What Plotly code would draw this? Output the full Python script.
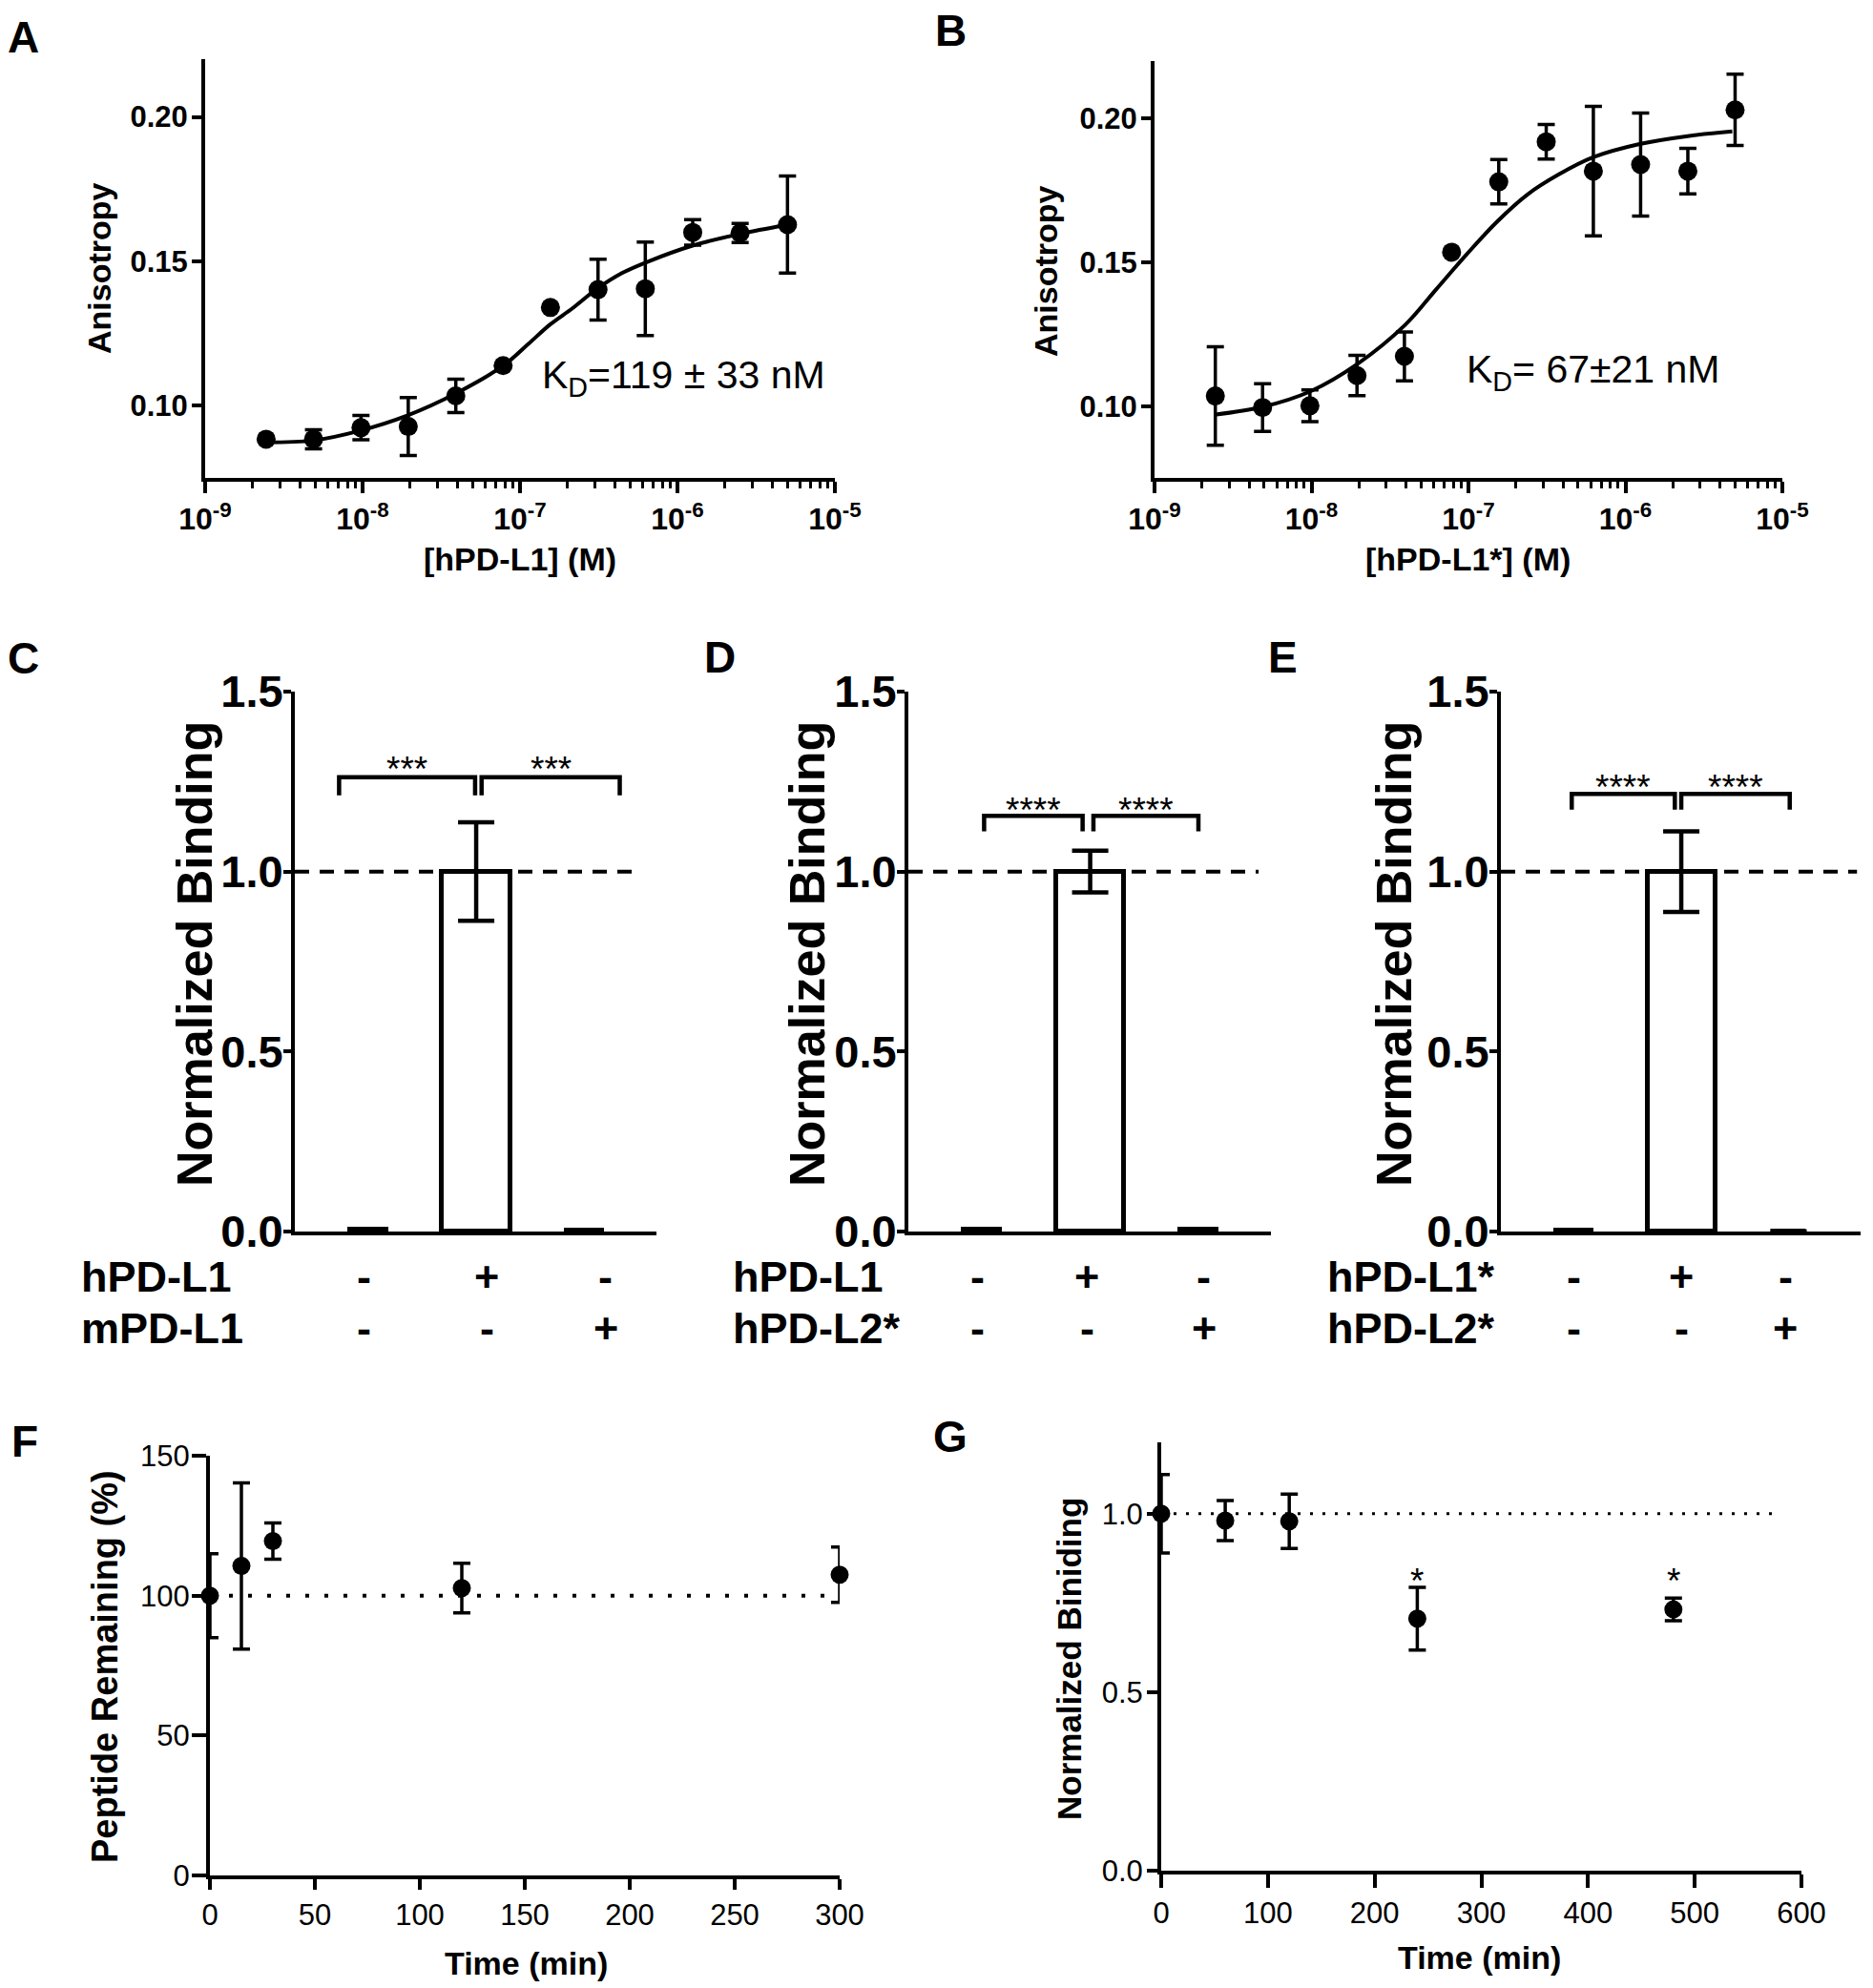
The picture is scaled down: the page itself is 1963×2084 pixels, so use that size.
import plotly.graph_objects as go

W, H = 1963, 2084
FONT = "Liberation Sans, Arial, Helvetica, sans-serif"

# ------------------------------------------------------------------ data
# Panel A : anisotropy vs [hPD-L1]
conc_A = [2.44e-9, 4.88e-9, 9.77e-9, 1.95e-8, 3.91e-8, 7.81e-8,
          1.56e-7, 3.13e-7, 6.25e-7, 1.25e-6, 2.5e-6, 5.0e-6]
aniso_A = [0.0884, 0.0884, 0.0924, 0.0928, 0.1034, 0.1139,
           0.1340, 0.1402, 0.1405, 0.1600, 0.1598, 0.1627]
sem_A = [None, 0.0033, 0.0042, 0.0100, 0.0058, None,
         None, 0.0105, 0.0162, 0.0044, 0.0033, 0.0168]
fit_conc_A = [2.43e-9, 4.89e-9, 9.68e-9, 1.92e-8, 3.96e-8, 7.85e-8, 1.13e-7, 1.56e-7,
              2.15e-7, 3.09e-7, 4.44e-7, 6.37e-7, 1.26e-6, 2.51e-6, 4.89e-6]
fit_A = [0.0873, 0.0880, 0.0914, 0.0966, 0.1044, 0.1139, 0.1214, 0.1282,
         0.1337, 0.1405, 0.1459, 0.1497, 0.1555, 0.1595, 0.1625]
kd_A = "K<sub>D</sub>=119 ± 33 nM"

# Panel B : anisotropy vs [hPD-L1*]
conc_B = [2.44e-9, 4.88e-9, 9.77e-9, 1.95e-8, 3.91e-8, 7.81e-8,
          1.56e-7, 3.13e-7, 6.25e-7, 1.25e-6, 2.5e-6, 5.0e-6]
aniso_B = [0.1035, 0.0995, 0.1001, 0.1106, 0.1173, 0.1535,
           0.1780, 0.1919, 0.1817, 0.1840, 0.1817, 0.2030]
sem_B = [0.0171, 0.0083, 0.0055, 0.0070, 0.0085, None,
         0.0077, 0.0060, 0.0225, 0.0179, 0.0079, 0.0124]
fit_conc_B = [2.41e-9, 4.89e-9, 9.84e-9, 1.96e-8, 3.95e-8, 6.19e-8, 9.68e-8,
              1.52e-7, 2.38e-7, 3.72e-7, 6.21e-7, 1.25e-6, 2.49e-6, 4.80e-6]
fit_B = [0.0970, 0.0997, 0.1051, 0.1146, 0.1282, 0.1404, 0.1526,
         0.1641, 0.1736, 0.1804, 0.1865, 0.1912, 0.1939, 0.1955]
kd_B = "K<sub>D</sub>= 67±21 nM"

x_ticks_log = [1e-9, 1e-8, 1e-7, 1e-6, 1e-5]
x_ticktext_log = ["10<sup>-9</sup>", "10<sup>-8</sup>", "10<sup>-7</sup>",
                  "10<sup>-6</sup>", "10<sup>-5</sup>"]

# Panels C, D, E : normalized binding bars
groups = [0, 1, 2]
bind_C = [0.006, 1.0, 0.003]
sem_C = [None, 0.137, None]
bind_D = [0.005, 1.0, 0.006]
sem_D = [None, 0.058, None]
bind_E = [0.003, 1.0, 0.0]
sem_E = [None, 0.112, None]
rows_C = ["hPD-L1", "mPD-L1"]
rows_D = ["hPD-L1", "hPD-L2*"]
rows_E = ["hPD-L1*", "hPD-L2*"]
signs = [["-", "+", "-"], ["-", "-", "+"]]
sig_C = ["***", "***"]
sig_D = ["****", "****"]
sig_E = ["****", "****"]

# Panel F : peptide remaining
time_F = [0, 15, 30, 120, 300]
pep_F = [100.0, 110.6, 119.5, 102.7, 107.5]
sem_F = [15.0, 29.7, 6.5, 8.9, 9.9]

# Panel G : normalized binding over time
time_G = [0, 60, 120, 240, 480]
bind_G = [1.0, 0.981, 0.979, 0.706, 0.732]
sem_G = [0.11, 0.056, 0.076, 0.088, 0.032]
sig_G = ["", "", "", "*", "*"]

# ------------------------------------------------------------------ layout helpers
def dx(a, b):
    return [a / W, b / W]


def dy(top, bottom):
    return [1 - bottom / H, 1 - top / H]


def axis(**kw):
    d = dict(showline=True, linecolor="black", linewidth=4, ticks="outside",
             tickcolor="black", tickwidth=4, showgrid=False, zeroline=False,
             mirror=False, fixedrange=True, automargin=False)
    d.update(kw)
    return d


def tf(size, bold):
    return dict(family=FONT, size=size, color="black", weight="bold" if bold else "normal")


annotations = []


def note(x, y, text, size, bold=True, xanchor="center", yanchor="middle",
         angle=0, xref="paper", yref="paper", yshift=0):
    if xref == "paper":
        x = x / W
    if yref == "paper":
        y = 1 - y / H
    annotations.append(dict(x=x, y=y, xref=xref, yref=yref, text=text, showarrow=False,
                            xanchor=xanchor, yanchor=yanchor, textangle=angle,
                            font=tf(size, bold), yshift=yshift))


shapes = []

fig = go.Figure()

# ------------------------------------------------------------------ A & B
minor_log = [k * 10.0 ** e for e in range(-9, -5) for k in range(2, 10)]
err_style = dict(type="data", visible=True, color="black", thickness=3.5, width=9)

for n, conc, val, sem, fc, fv in [
    ("", conc_A, aniso_A, sem_A, fit_conc_A, fit_A),
    ("2", conc_B, aniso_B, sem_B, fit_conc_B, fit_B),
]:
    fig.add_trace(go.Scatter(x=fc, y=fv, mode="lines", line=dict(color="black", width=4, shape="spline"),
                             xaxis="x" + n, yaxis="y" + n, showlegend=False, hoverinfo="skip"))
    fig.add_trace(go.Scatter(x=conc, y=val, mode="markers",
                             marker=dict(color="black", size=20),
                             error_y=dict(array=sem, **err_style),
                             xaxis="x" + n, yaxis="y" + n, showlegend=False, cliponaxis=False))

log_x = dict(type="log", range=[-9, -5], tickvals=x_ticks_log, ticktext=x_ticktext_log,
             ticklen=12, tickfont=tf(32, True),
             minor=dict(tickvals=minor_log, ticks="outside", ticklen=7, tickwidth=3, tickcolor="black"))
aniso_y = dict(range=[0.075, 0.22], tickvals=[0.10, 0.15, 0.20], tickformat=".2f",
               ticklen=10, tickfont=tf(31, True), ticklabelstandoff=-2)

layout_axes = {}
layout_axes["xaxis"] = axis(domain=dx(215, 875), anchor="y", **log_x)
layout_axes["yaxis"] = axis(domain=dy(62, 501), anchor="x", **aniso_y)
layout_axes["xaxis2"] = axis(domain=dx(1210, 1868), anchor="y2", **log_x)
layout_axes["yaxis2"] = axis(domain=dy(64, 501), anchor="x2", **aniso_y)

note(566, 396, kd_A, 41, bold=False, xanchor="left")
note(1535, 390, kd_B, 41, bold=False, xanchor="left")
note(104, 281, "Anisotropy", 34, angle=-90)
note(1096, 284, "Anisotropy", 34, angle=-90)
note(545, 586, "[hPD-L1] (M)", 34)
note(1538, 586, "[hPD-L1*] (M)", 34)

# ------------------------------------------------------------------ C, D, E
bar_widths = [0.33, 0.63, 0.33]
bar_panels = [
    ("3", bind_C, sem_C, rows_C, sig_C, (309, 688), 204, 83, [-0.04, 1.1, 2.2],
     [(-0.27, 0.99), (1.05, 2.33)], 1.262, 1.212, 1.304, 0.96),
    ("4", bind_D, sem_D, rows_D, sig_D, (952, 1332), 846, 766, [-0.04, 0.97, 2.05],
     [(0.02, 0.93), (1.03, 2.0)], 1.155, 1.112, 1.19, 0.966),
    ("5", bind_E, sem_E, rows_E, sig_E, (1573, 1950), 1461, 1389, [0.0, 1.0, 1.97],
     [(-0.02, 0.94), (1.0, 2.01)], 1.216, 1.172, 1.254, 0.99),
]
for (n, vals, sem, rows, sig, (xl, xr), ytitle_x, rowlabel_x, col_x,
     brackets, br_y, leg_y, star_y, dash_end) in bar_panels:
    fig.add_trace(go.Bar(x=groups, y=vals, width=bar_widths,
                         marker=dict(color="white", line=dict(color="black", width=5)),
                         error_y=dict(type="data", array=sem, visible=True, color="black",
                                      thickness=4.5, width=19),
                         xaxis="x" + n, yaxis="y" + n, showlegend=False, cliponaxis=False))
    layout_axes["xaxis" + n] = axis(domain=dx(xl, xr), anchor="y" + n, range=[-0.68, 2.67],
                                    showticklabels=False, ticks="", tickmode="array", tickvals=[])
    layout_axes["yaxis" + n] = axis(domain=dy(725, 1291), anchor="x" + n, range=[0, 1.5],
                                    tickvals=[0, 0.5, 1.0, 1.5], tickformat=".1f", ticklen=8,
                                    tickfont=tf(47, True), ticklabelstandoff=-9)
    # reference line at 1.0
    shapes.append(dict(type="line", xref="x" + n + " domain", yref="y" + n, x0=0, x1=dash_end,
                       y0=1.0, y1=1.0, line=dict(color="black", width=4, dash="15px,11px"),
                       layer="above"))
    # significance brackets
    for (b0, b1), s in zip(brackets, sig):
        shapes.append(dict(type="path", xref="x" + n, yref="y" + n,
                           path=f"M {b0},{leg_y} L {b0},{br_y} L {b1},{br_y} L {b1},{leg_y}",
                           line=dict(color="black", width=4.5)))
        note((b0 + b1) / 2, star_y, s, 37, bold=False, xref="x" + n, yref="y" + n, yshift=-8)
    note(ytitle_x, 1000, "Normalized Binding", 52, angle=-90)
    for r, (label, ypx) in enumerate(zip(rows, [1338, 1392])):
        note(rowlabel_x, ypx, label, 45, xanchor="left")
        for c in range(3):
            note(col_x[c], ypx, signs[r][c], 45, xref="x" + n, yref="paper")

# ------------------------------------------------------------------ F
fig.add_trace(go.Scatter(x=time_F, y=pep_F, mode="markers", marker=dict(color="black", size=19),
                         error_y=dict(array=sem_F, **err_style),
                         xaxis="x6", yaxis="y6", showlegend=False, cliponaxis=False))
layout_axes["xaxis6"] = axis(domain=dx(220, 880), anchor="y6", range=[0, 300],
                             tickvals=[0, 50, 100, 150, 200, 250, 300], ticklen=11,
                             tickfont=tf(31, False))
layout_axes["yaxis6"] = axis(domain=dy(1526, 1966), anchor="x6", range=[0, 150],
                             tickvals=[0, 50, 100, 150], ticklen=15, tickfont=tf(31, False),
                             ticklabelstandoff=-4)
shapes.append(dict(type="line", xref="x6", yref="y6", x0=0, x1=300, y0=100, y1=100,
                   line=dict(color="black", width=4, dash="4px,16px"), layer="above"))
note(110, 1747, "Peptide Remaining (%)", 38, angle=-90)
note(551, 2058, "Time (min)", 34)

# ------------------------------------------------------------------ G
fig.add_trace(go.Scatter(x=time_G, y=bind_G, mode="markers", marker=dict(color="black", size=19),
                         error_y=dict(array=sem_G, **err_style),
                         xaxis="x7", yaxis="y7", showlegend=False, cliponaxis=False))
layout_axes["xaxis7"] = axis(domain=dx(1217, 1888), anchor="y7", range=[0, 600],
                             tickvals=[0, 100, 200, 300, 400, 500, 600], ticklen=14,
                             tickfont=tf(31, False))
layout_axes["yaxis7"] = axis(domain=dy(1512, 1961), anchor="x7", range=[0, 1.2],
                             tickvals=[0, 0.5, 1.0], tickformat=".1f", ticklen=11,
                             tickfont=tf(31, False), ticklabelstandoff=-2)
shapes.append(dict(type="line", xref="x7", yref="y7", x0=0, x1=580, y0=1.0, y1=1.0,
                   line=dict(color="black", width=3, dash="3px,10px"), layer="above"))
for t, v, s in zip(time_G, bind_G, sig_G):
    if s:
        note(t, 0.832, s, 37, bold=False, xref="x7", yref="y7", yshift=-8)
note(1120, 1739, "Normalized Biniding", 35, angle=-90)
note(1550, 2052, "Time (min)", 34)

# ------------------------------------------------------------------ panel letters
for letter, x, y in [("A", 24, 39), ("B", 996, 32), ("C", 24, 690), ("D", 754, 689),
                     ("E", 1344, 689), ("F", 26, 1511), ("G", 996, 1506)]:
    note(x, y, letter, 46)

fig.update_layout(width=W, height=H, autosize=False,
                  margin=dict(l=0, r=0, t=0, b=0, pad=0),
                  paper_bgcolor="white", plot_bgcolor="white",
                  font=dict(family=FONT, color="black"),
                  annotations=annotations, shapes=shapes, bargap=0,
                  **layout_axes)

fig.write_html("out.html", config={"displayModeBar": False},
               post_script="document.body.style.margin='0px';")
